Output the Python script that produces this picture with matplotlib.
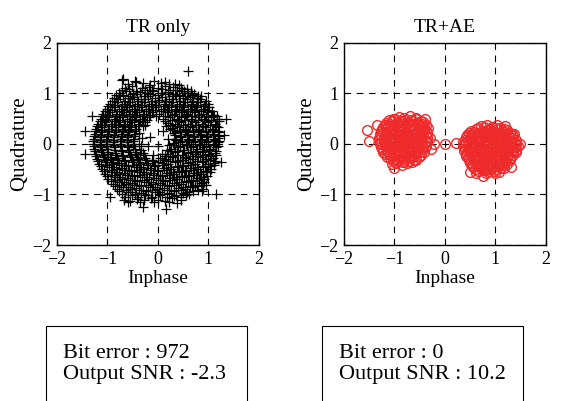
import matplotlib.pyplot as plt
from matplotlib.patches import Rectangle
import numpy as np

plt.rcParams['font.family'] = ['Liberation Serif', 'DejaVu Serif']

# received symbols, TR only
tr_only = np.array([
    (-0.72, 1.26), (-0.44, 1.22), (-0.08, 1.24), (0.05, 1.2), (0.22, 1.18), (0.41, 1.16),
    (-0.66, 1.1), (-0.52, 1.14), (-0.31, 1.1), (-0.18, 1.13), (0.0, 1.1), (0.13, 1.15), (0.3, 1.12), (0.46, 1.1), (0.58, 1.08),
    (-0.78, 1.0), (-0.63, 1.04), (-0.49, 0.99), (-0.36, 1.03), (-0.22, 1.0), (-0.09, 1.05), (0.06, 1.0), (0.19, 1.03),
    (0.33, 0.99), (0.47, 1.04), (0.6, 1.0), (0.72, 0.98),
    (-0.88, 0.9), (-0.75, 0.94), (-0.6, 0.91), (-0.47, 0.93), (-0.33, 0.89), (-0.2, 0.94), (-0.05, 0.9), (0.08, 0.93),
    (0.22, 0.89), (0.35, 0.94), (0.5, 0.9), (0.63, 0.93), (0.77, 0.9), (0.86, 0.95),
    (-0.95, 0.8), (-0.82, 0.84), (-0.68, 0.8), (-0.55, 0.83), (-0.41, 0.79), (-0.28, 0.84), (-0.14, 0.8), (0.0, 0.83),
    (0.14, 0.79), (0.27, 0.84), (0.41, 0.8), (0.54, 0.83), (0.68, 0.79), (0.8, 0.84), (0.93, 0.8),
    (-1.0, 0.7), (-0.88, 0.74), (-0.74, 0.7), (-0.61, 0.73), (-0.47, 0.69), (-0.33, 0.74), (-0.2, 0.7), (-0.06, 0.73),
    (0.09, 0.69), (0.22, 0.74), (0.36, 0.7), (0.5, 0.73), (0.63, 0.69), (0.76, 0.74), (0.9, 0.7), (1.02, 0.73),
    (-1.08, 0.6), (-0.95, 0.64), (-0.82, 0.6), (-0.68, 0.63), (-0.55, 0.59), (-0.41, 0.64), (-0.27, 0.6), (-0.12, 0.63),
    (0.03, 0.59), (0.17, 0.64), (0.31, 0.6), (0.45, 0.63), (0.58, 0.59), (0.72, 0.64), (0.86, 0.6), (0.99, 0.63), (1.1, 0.58),
    (-1.12, 0.5), (-0.99, 0.54), (-0.85, 0.5), (-0.72, 0.53), (-0.58, 0.49), (-0.45, 0.54), (-0.32, 0.5), (-0.18, 0.53),
    (-0.04, 0.55), (0.1, 0.5), (0.24, 0.54), (0.38, 0.49), (0.52, 0.53), (0.65, 0.5), (0.79, 0.54), (0.92, 0.5),
    (1.05, 0.53), (1.16, 0.49),
    (-1.18, 0.4), (-1.05, 0.44), (-0.92, 0.4), (-0.78, 0.43), (-0.65, 0.39), (-0.51, 0.44), (-0.38, 0.4), (-0.26, 0.44),
    (0.2, 0.42), (0.33, 0.39), (0.46, 0.44), (0.6, 0.4), (0.73, 0.43), (0.87, 0.39), (1.0, 0.44), (1.12, 0.4), (1.2, 0.45),
    (-1.22, 0.3), (-1.1, 0.34), (-0.97, 0.3), (-0.83, 0.33), (-0.7, 0.29), (-0.56, 0.34), (-0.43, 0.3),
    (0.28, 0.31), (0.41, 0.34), (0.54, 0.29), (0.67, 0.33), (0.8, 0.3), (0.94, 0.34), (1.07, 0.3), (1.18, 0.33),
    (-1.25, 0.2), (-1.12, 0.24), (-0.99, 0.2), (-0.86, 0.23), (-0.72, 0.19), (-0.59, 0.24), (-0.46, 0.2),
    (0.31, 0.21), (0.44, 0.24), (0.57, 0.19), (0.7, 0.23), (0.83, 0.2), (0.96, 0.24), (1.09, 0.2), (1.2, 0.23),
    (-1.27, 0.1), (-1.14, 0.14), (-1.01, 0.1), (-0.88, 0.13), (-0.74, 0.09), (-0.61, 0.14), (-0.47, 0.1), (-0.15, 0.14),
    (0.33, 0.1), (0.46, 0.14), (0.59, 0.09), (0.72, 0.13), (0.85, 0.1), (0.98, 0.14), (1.1, 0.1), (1.19, 0.12),
    (-1.28, 0.0), (-1.15, 0.04), (-1.02, 0.0), (-0.89, 0.03), (-0.75, -0.01), (-0.62, 0.04), (-0.48, 0.0), (0.0, -0.04),
    (0.3, 0.01), (0.43, 0.04), (0.56, -0.01), (0.69, 0.03), (0.82, 0.0), (0.95, 0.04), (1.08, 0.0), (1.18, 0.03),
    (-1.26, -0.1), (-1.13, -0.06), (-1.0, -0.1), (-0.87, -0.07), (-0.73, -0.11), (-0.6, -0.06), (-0.46, -0.1), (-0.34, -0.05),
    (0.26, -0.09), (0.39, -0.06), (0.52, -0.11), (0.65, -0.07), (0.78, -0.1), (0.91, -0.06), (1.04, -0.1), (1.14, -0.07),
    (-1.24, -0.2), (-1.11, -0.16), (-0.98, -0.2), (-0.85, -0.17), (-0.71, -0.21), (-0.58, -0.16), (-0.44, -0.2), (-0.3, -0.17),
    (0.2, -0.19), (0.34, -0.16), (0.47, -0.21), (0.6, -0.17), (0.74, -0.2), (0.87, -0.16), (1.0, -0.2), (1.12, -0.17),
    (-1.2, -0.3), (-1.07, -0.26), (-0.94, -0.3), (-0.81, -0.27), (-0.67, -0.31), (-0.54, -0.26), (-0.4, -0.3), (-0.26, -0.27),
    (-0.12, -0.31), (0.04, -0.27), (0.16, -0.3), (0.3, -0.26), (0.43, -0.31), (0.56, -0.27), (0.7, -0.3), (0.83, -0.26),
    (0.96, -0.3), (1.08, -0.27),
    (-1.16, -0.4), (-1.03, -0.36), (-0.9, -0.4), (-0.77, -0.37), (-0.63, -0.41), (-0.5, -0.36), (-0.36, -0.4), (-0.22, -0.37),
    (-0.08, -0.41), (0.07, -0.37), (0.2, -0.4), (0.34, -0.36), (0.47, -0.41), (0.6, -0.37), (0.74, -0.4), (0.87, -0.36),
    (1.0, -0.4), (1.11, -0.37),
    (-1.1, -0.5), (-0.97, -0.46), (-0.84, -0.5), (-0.71, -0.47), (-0.57, -0.51), (-0.44, -0.46), (-0.3, -0.5), (-0.16, -0.47),
    (-0.02, -0.51), (0.12, -0.47), (0.26, -0.5), (0.39, -0.46), (0.53, -0.51), (0.66, -0.47), (0.8, -0.5), (0.93, -0.46),
    (1.05, -0.5),
    (-1.04, -0.6), (-0.91, -0.56), (-0.78, -0.6), (-0.65, -0.57), (-0.51, -0.61), (-0.38, -0.56), (-0.24, -0.6), (-0.1, -0.57),
    (0.04, -0.61), (0.18, -0.57), (0.32, -0.6), (0.45, -0.56), (0.59, -0.61), (0.72, -0.57), (0.86, -0.6), (0.98, -0.56),
    (-0.98, -0.7), (-0.85, -0.66), (-0.72, -0.7), (-0.59, -0.67), (-0.45, -0.71), (-0.32, -0.66), (-0.18, -0.7), (-0.04, -0.67),
    (0.1, -0.71), (0.24, -0.67), (0.38, -0.7), (0.51, -0.66), (0.65, -0.71), (0.78, -0.67), (0.92, -0.7),
    (-0.9, -0.8), (-0.77, -0.76), (-0.64, -0.8), (-0.51, -0.77), (-0.37, -0.81), (-0.24, -0.76), (-0.1, -0.8), (0.04, -0.77),
    (0.18, -0.81), (0.32, -0.77), (0.46, -0.8), (0.59, -0.76), (0.73, -0.81), (0.85, -0.77), (0.95, -0.82),
    (-0.82, -0.9), (-0.69, -0.86), (-0.56, -0.9), (-0.43, -0.87), (-0.29, -0.91), (-0.16, -0.86), (-0.02, -0.9), (0.12, -0.87),
    (0.26, -0.91), (0.4, -0.87), (0.54, -0.9), (0.67, -0.86), (0.8, -0.91), (0.88, -0.93),
    (-0.72, -1.0), (-0.59, -0.96), (-0.46, -1.0), (-0.33, -0.97), (-0.19, -1.01), (-0.06, -0.96), (0.08, -1.0), (0.22, -0.97),
    (0.36, -1.01), (0.5, -0.97), (0.62, -1.0),
    (-0.68, -1.1), (-0.55, -1.12), (-0.42, -1.08), (-0.28, -1.11), (-0.14, -1.06), (0.0, -1.1), (0.14, -1.12), (0.28, -1.07),
    (0.45, -1.1),
    (0.6, 1.45), (-1.45, 0.25), (-1.45, -0.2), (1.15, -1.0), (1.35, 0.5), (1.3, 0.18), (-0.3, -1.25), (0.15, -1.28),
    (-0.95, -1.05), (1.25, -0.35), (-1.3, 0.55), (0.9, -0.9), (-0.45, 1.25), (-0.7, 1.28),
    (0.1, 0.25), (-0.2, -0.05),
    # second pass, between the rows above
    (-0.6, 1.18), (-0.3, 1.2), (-0.15, 1.16), (0.14, 1.22), (0.33, 1.19),
    (-0.72, 1.06), (-0.58, 1.08), (-0.44, 1.05), (-0.25, 1.07), (-0.12, 1.06), (0.07, 1.08), (0.23, 1.06), (0.38, 1.07),
    (0.52, 1.05), (0.65, 1.04),
    (-0.83, 0.96), (-0.69, 0.97), (-0.55, 0.95), (-0.42, 0.98), (-0.28, 0.95), (-0.15, 0.98), (0.0, 0.96), (0.13, 0.98),
    (0.27, 0.95), (0.41, 0.97), (0.54, 0.95), (0.67, 0.97), (0.8, 0.95),
    (-0.92, 0.86), (-0.8, 0.88), (-0.66, 0.85), (-0.52, 0.88), (-0.39, 0.86), (-0.25, 0.88), (-0.12, 0.85), (0.03, 0.87),
    (0.16, 0.86), (0.3, 0.88), (0.44, 0.85), (0.57, 0.88), (0.7, 0.86), (0.83, 0.88), (0.95, 0.86),
    (-0.98, 0.76), (-0.85, 0.78), (-0.72, 0.75), (-0.58, 0.78), (-0.45, 0.76), (-0.31, 0.78), (-0.18, 0.75), (-0.03, 0.77),
    (0.11, 0.76), (0.25, 0.78), (0.38, 0.75), (0.52, 0.77), (0.65, 0.76), (0.78, 0.78), (0.91, 0.75), (1.0, 0.79),
    (-1.04, 0.66), (-0.92, 0.68), (-0.78, 0.65), (-0.64, 0.68), (-0.51, 0.66), (-0.37, 0.68), (-0.24, 0.65), (-0.09, 0.67),
    (0.05, 0.66), (0.19, 0.68), (0.33, 0.65), (0.47, 0.67), (0.6, 0.66), (0.73, 0.68), (0.86, 0.65), (0.97, 0.67), (1.07, 0.65),
    (-1.1, 0.56), (-0.97, 0.58), (-0.84, 0.55), (-0.7, 0.58), (-0.57, 0.56), (-0.43, 0.58), (-0.3, 0.55), (-0.15, 0.57),
    (0.13, 0.56), (0.27, 0.58), (0.41, 0.55), (0.55, 0.57), (0.68, 0.56), (0.82, 0.58), (0.95, 0.55), (1.08, 0.57), (1.17, 0.55),
    (-1.15, 0.46), (-1.02, 0.48), (-0.88, 0.45), (-0.75, 0.48), (-0.62, 0.46), (-0.48, 0.48), (-0.35, 0.45), (-0.21, 0.47),
    (0.14, 0.46), (0.27, 0.48), (0.4, 0.45), (0.54, 0.47), (0.67, 0.46), (0.8, 0.48), (0.94, 0.45), (1.06, 0.47), (1.17, 0.46),
    (-1.2, 0.36), (-1.07, 0.38), (-0.94, 0.35), (-0.8, 0.38), (-0.67, 0.36), (-0.53, 0.38), (-0.4, 0.35),
    (0.24, 0.37), (0.37, 0.36), (0.5, 0.38), (0.63, 0.35), (0.76, 0.37), (0.9, 0.36), (1.03, 0.38), (1.15, 0.35),
    (-1.24, 0.26), (-1.11, 0.28), (-0.98, 0.25), (-0.84, 0.28), (-0.71, 0.26), (-0.57, 0.28), (-0.45, 0.25),
    (0.3, 0.27), (0.43, 0.26), (0.56, 0.28), (0.69, 0.25), (0.82, 0.27), (0.95, 0.26), (1.08, 0.28), (1.19, 0.26),
    (-1.26, 0.16), (-1.13, 0.18), (-1.0, 0.15), (-0.87, 0.18), (-0.73, 0.16), (-0.6, 0.18), (-0.48, 0.15),
    (0.33, 0.17), (0.46, 0.16), (0.59, 0.18), (0.72, 0.15), (0.85, 0.17), (0.98, 0.16), (1.1, 0.18), (1.2, 0.16),
    (-1.28, 0.06), (-1.15, 0.08), (-1.02, 0.05), (-0.89, 0.08), (-0.75, 0.06), (-0.62, 0.08), (-0.5, 0.05),
    (0.35, 0.07), (0.48, 0.06), (0.61, 0.08), (0.74, 0.05), (0.87, 0.07), (1.0, 0.06), (1.12, 0.08), (1.21, 0.06),
    (-1.27, -0.04), (-1.14, -0.02), (-1.01, -0.05), (-0.88, -0.02), (-0.74, -0.04), (-0.61, -0.02), (-0.49, -0.05), (-0.38, 0.0),
    (0.31, -0.03), (0.44, -0.04), (0.57, -0.02), (0.7, -0.05), (0.83, -0.03), (0.96, -0.04), (1.09, -0.02), (1.19, -0.04),
    (-1.25, -0.14), (-1.12, -0.12), (-0.99, -0.15), (-0.86, -0.12), (-0.72, -0.14), (-0.59, -0.12), (-0.46, -0.15), (-0.33, -0.12),
    (0.24, -0.13), (0.37, -0.14), (0.5, -0.12), (0.63, -0.15), (0.76, -0.13), (0.89, -0.14), (1.02, -0.12), (1.14, -0.14),
    (-1.22, -0.24), (-1.09, -0.22), (-0.96, -0.25), (-0.83, -0.22), (-0.69, -0.24), (-0.56, -0.22), (-0.42, -0.25), (-0.28, -0.22),
    (0.13, -0.23), (0.27, -0.24), (0.4, -0.22), (0.54, -0.25), (0.67, -0.23), (0.8, -0.24), (0.93, -0.22), (1.06, -0.24),
    (1.15, -0.22),
    (-1.18, -0.34), (-1.05, -0.32), (-0.92, -0.35), (-0.79, -0.32), (-0.65, -0.34), (-0.52, -0.32), (-0.38, -0.35), (-0.24, -0.32),
    (-0.1, -0.34), (0.0, -0.35), (0.11, -0.32), (0.24, -0.33), (0.37, -0.34), (0.5, -0.32), (0.63, -0.35), (0.77, -0.33),
    (0.9, -0.34), (1.03, -0.32), (1.13, -0.34),
    (-1.13, -0.44), (-1.0, -0.42), (-0.87, -0.45), (-0.74, -0.42), (-0.6, -0.44), (-0.47, -0.42), (-0.33, -0.45), (-0.19, -0.42),
    (-0.05, -0.44), (0.1, -0.42), (0.23, -0.45), (0.37, -0.43), (0.5, -0.44), (0.63, -0.42), (0.77, -0.45), (0.9, -0.43),
    (1.03, -0.44), (1.1, -0.42),
    (-1.07, -0.54), (-0.94, -0.52), (-0.81, -0.55), (-0.68, -0.52), (-0.54, -0.54), (-0.41, -0.52), (-0.27, -0.55), (-0.13, -0.52),
    (0.01, -0.54), (0.15, -0.52), (0.29, -0.55), (0.42, -0.53), (0.56, -0.54), (0.69, -0.52), (0.83, -0.55), (0.96, -0.53),
    (1.04, -0.55),
    (-1.01, -0.64), (-0.88, -0.62), (-0.75, -0.65), (-0.62, -0.62), (-0.48, -0.64), (-0.35, -0.62), (-0.21, -0.65), (-0.07, -0.62),
    (0.07, -0.64), (0.21, -0.62), (0.35, -0.65), (0.48, -0.63), (0.62, -0.64), (0.75, -0.62), (0.89, -0.65), (0.97, -0.63),
    (-0.94, -0.74), (-0.81, -0.72), (-0.68, -0.75), (-0.55, -0.72), (-0.41, -0.74), (-0.28, -0.72), (-0.14, -0.75), (0.0, -0.72),
    (0.14, -0.74), (0.28, -0.72), (0.42, -0.75), (0.55, -0.73), (0.69, -0.74), (0.82, -0.72), (0.92, -0.75),
    (-0.86, -0.84), (-0.73, -0.82), (-0.6, -0.85), (-0.47, -0.82), (-0.33, -0.84), (-0.2, -0.82), (-0.06, -0.85), (0.08, -0.82),
    (0.22, -0.84), (0.36, -0.82), (0.5, -0.85), (0.63, -0.83), (0.77, -0.84), (0.87, -0.82),
    (-0.77, -0.94), (-0.64, -0.92), (-0.51, -0.95), (-0.38, -0.92), (-0.24, -0.94), (-0.11, -0.92), (0.03, -0.95), (0.17, -0.92),
    (0.31, -0.94), (0.45, -0.92), (0.58, -0.95), (0.7, -0.93),
    (-0.65, -1.04), (-0.52, -1.02), (-0.39, -1.05), (-0.25, -1.02), (-0.11, -1.04), (0.04, -1.02), (0.18, -1.05), (0.32, -1.03),
    (0.46, -1.04), (0.56, -1.02),
    (-0.6, -1.15), (-0.35, -1.14), (-0.07, -1.15), (0.22, -1.14), (0.38, -1.16),
    # stragglers around the hole in the middle
    (0.2, 0.1), (0.18, -0.12), (-0.32, 0.12), (-0.3, 0.35), (0.15, 0.35), (-0.1, -0.22), (0.08, -0.2),
    (-0.25, 0.38), (-0.38, 0.22), (0.23, 0.3), (-0.36, -0.18), (0.22, -0.02),
])

# received symbols, TR+AE: cluster around -1
ae_left = np.array([
    (-1.02, 0.5), (-0.91, 0.54), (-0.8, 0.51), (-0.69, 0.55), (-0.58, 0.52),
    (-1.16, 0.42), (-1.05, 0.45), (-0.95, 0.41), (-0.84, 0.44), (-0.74, 0.42), (-0.63, 0.46), (-0.53, 0.42), (-0.43, 0.44),
    (-1.22, 0.33), (-1.12, 0.36), (-1.01, 0.32), (-0.91, 0.35), (-0.81, 0.33), (-0.71, 0.36), (-0.6, 0.32), (-0.5, 0.35),
    (-0.41, 0.33),
    (-1.27, 0.26), (-1.17, 0.23), (-1.06, 0.27), (-0.96, 0.24), (-0.86, 0.26), (-0.75, 0.23), (-0.65, 0.27), (-0.55, 0.24),
    (-0.45, 0.26), (-0.36, 0.23),
    (-1.29, 0.15), (-1.19, 0.18), (-1.08, 0.14), (-0.98, 0.17), (-0.88, 0.15), (-0.77, 0.18), (-0.67, 0.14), (-0.57, 0.17),
    (-0.47, 0.15), (-0.37, 0.18),
    (-1.3, 0.08), (-1.2, 0.05), (-1.09, 0.09), (-0.99, 0.06), (-0.89, 0.08), (-0.78, 0.05), (-0.68, 0.09), (-0.58, 0.06),
    (-0.48, 0.08), (-0.37, 0.05),
    (-1.28, -0.01), (-1.18, -0.04), (-1.07, 0.0), (-0.97, -0.03), (-0.87, -0.01), (-0.76, -0.04), (-0.66, 0.0), (-0.56, -0.03),
    (-0.46, -0.01), (-0.38, -0.04),
    (-1.25, -0.1), (-1.15, -0.13), (-1.04, -0.09), (-0.94, -0.12), (-0.84, -0.1), (-0.73, -0.13), (-0.63, -0.09), (-0.53, -0.12),
    (-0.43, -0.1),
    (-1.19, -0.19), (-1.09, -0.22), (-0.98, -0.18), (-0.88, -0.21), (-0.78, -0.19), (-0.67, -0.22), (-0.57, -0.18), (-0.47, -0.21),
    (-1.09, -0.28), (-0.99, -0.31), (-0.88, -0.27), (-0.78, -0.3), (-0.68, -0.28), (-0.57, -0.31),
    (-0.96, -0.37), (-0.85, -0.35), (-0.75, -0.38), (-0.65, -0.36),
    (-1.55, 0.27), (-1.5, 0.05), (-0.22, 0.0), (-1.0, -0.47), (-0.4, 0.5), (-0.3, 0.12), (-0.27, -0.1), (-1.35, 0.38),
    (-1.1, 0.47), (-0.99, 0.49), (-0.89, 0.46), (-0.79, 0.48), (-0.68, 0.47), (-0.58, 0.49), (-0.48, 0.46),
    (-1.19, 0.38), (-1.08, 0.4), (-0.98, 0.37), (-0.87, 0.39), (-0.77, 0.38), (-0.66, 0.4), (-0.56, 0.37), (-0.46, 0.39),
    (-0.38, 0.38),
    (-1.24, 0.29), (-1.14, 0.31), (-1.03, 0.28), (-0.93, 0.3), (-0.82, 0.29), (-0.72, 0.31), (-0.61, 0.28), (-0.51, 0.3),
    (-0.41, 0.29), (-0.34, 0.31),
    (-1.28, 0.2), (-1.17, 0.22), (-1.07, 0.19), (-0.96, 0.21), (-0.86, 0.2), (-0.75, 0.22), (-0.65, 0.19), (-0.55, 0.21),
    (-0.44, 0.2), (-0.35, 0.22),
    (-1.31, 0.11), (-1.2, 0.13), (-1.1, 0.1), (-0.99, 0.12), (-0.89, 0.11), (-0.78, 0.13), (-0.68, 0.1), (-0.58, 0.12),
    (-0.47, 0.11), (-0.36, 0.13),
    (-1.29, 0.02), (-1.19, 0.04), (-1.08, 0.01), (-0.98, 0.03), (-0.87, 0.02), (-0.77, 0.04), (-0.66, 0.01), (-0.56, 0.03),
    (-0.46, 0.02), (-0.36, 0.04),
    (-1.27, -0.07), (-1.16, -0.05), (-1.06, -0.08), (-0.95, -0.06), (-0.85, -0.07), (-0.74, -0.05), (-0.64, -0.08), (-0.54, -0.06),
    (-0.44, -0.07), (-0.37, -0.05),
    (-1.22, -0.16), (-1.12, -0.14), (-1.01, -0.17), (-0.91, -0.15), (-0.8, -0.16), (-0.7, -0.14), (-0.59, -0.17), (-0.49, -0.15),
    (-0.41, -0.16),
    (-1.14, -0.25), (-1.04, -0.23), (-0.93, -0.26), (-0.83, -0.24), (-0.72, -0.25), (-0.62, -0.23), (-0.52, -0.26),
    (-1.03, -0.33), (-0.92, -0.32), (-0.81, -0.34), (-0.71, -0.33), (-0.61, -0.32),
    (-0.85, -0.41), (-1.05, -0.4),
])

# received symbols, TR+AE: cluster around +1 (and the stray one at the origin)
ae_right = np.array([
    (0.72, 0.35), (0.83, 0.38), (0.94, 0.34), (1.04, 0.37),
    (0.52, 0.26), (0.62, 0.29), (0.73, 0.25), (0.83, 0.28), (0.93, 0.26), (1.03, 0.29), (1.14, 0.25), (1.24, 0.28),
    (0.43, 0.17), (0.53, 0.2), (0.64, 0.16), (0.74, 0.19), (0.84, 0.17), (0.94, 0.2), (1.05, 0.16), (1.15, 0.19),
    (1.25, 0.17), (1.33, 0.2),
    (0.4, 0.08), (0.5, 0.11), (0.61, 0.07), (0.71, 0.1), (0.81, 0.08), (0.92, 0.11), (1.02, 0.07), (1.12, 0.1),
    (1.23, 0.08), (1.33, 0.11), (1.41, 0.08),
    (0.38, -0.01), (0.48, 0.02), (0.59, -0.02), (0.69, 0.01), (0.79, -0.01), (0.9, 0.02), (1.0, -0.02), (1.1, 0.01),
    (1.21, -0.01), (1.31, 0.02), (1.4, -0.02),
    (0.39, -0.1), (0.49, -0.07), (0.6, -0.11), (0.7, -0.08), (0.8, -0.1), (0.91, -0.07), (1.01, -0.11), (1.11, -0.08),
    (1.22, -0.1), (1.32, -0.07), (1.41, -0.11),
    (0.42, -0.19), (0.52, -0.16), (0.63, -0.2), (0.73, -0.17), (0.83, -0.19), (0.94, -0.16), (1.04, -0.2), (1.14, -0.17),
    (1.25, -0.19), (1.35, -0.16),
    (0.45, -0.28), (0.55, -0.25), (0.66, -0.29), (0.76, -0.26), (0.86, -0.28), (0.97, -0.25), (1.07, -0.29), (1.17, -0.26),
    (1.28, -0.28),
    (0.5, -0.37), (0.6, -0.34), (0.71, -0.38), (0.81, -0.35), (0.91, -0.37), (1.02, -0.34), (1.12, -0.38), (1.22, -0.35),
    (0.56, -0.46), (0.66, -0.43), (0.77, -0.47), (0.87, -0.44), (0.97, -0.46), (1.08, -0.43), (1.17, -0.47),
    (0.65, -0.54), (0.76, -0.52), (0.86, -0.55), (0.97, -0.53), (1.07, -0.55),
    (0.0, 0.0), (0.22, 0.02), (1.48, 0.0), (1.2, 0.36), (0.75, -0.63), (0.5, -0.56), (1.36, 0.2), (1.3, -0.45),
    (0.66, 0.31), (0.77, 0.33), (0.88, 0.3), (0.99, 0.32), (1.09, 0.31), (1.18, 0.3),
    (0.47, 0.22), (0.57, 0.24), (0.68, 0.21), (0.78, 0.23), (0.89, 0.22), (0.99, 0.24), (1.1, 0.21), (1.2, 0.23), (1.29, 0.22),
    (0.41, 0.13), (0.51, 0.15), (0.62, 0.12), (0.72, 0.14), (0.83, 0.13), (0.93, 0.15), (1.04, 0.12), (1.14, 0.14),
    (1.24, 0.13), (1.35, 0.15),
    (0.36, 0.04), (0.46, 0.06), (0.57, 0.03), (0.67, 0.05), (0.78, 0.04), (0.88, 0.06), (0.99, 0.03), (1.09, 0.05),
    (1.19, 0.04), (1.3, 0.06), (1.39, 0.04),
    (0.35, -0.05), (0.45, -0.03), (0.56, -0.06), (0.66, -0.04), (0.77, -0.05), (0.87, -0.03), (0.98, -0.06), (1.08, -0.04),
    (1.18, -0.05), (1.29, -0.03), (1.38, -0.06), (1.44, -0.04),
    (0.38, -0.14), (0.48, -0.12), (0.59, -0.15), (0.69, -0.13), (0.8, -0.14), (0.9, -0.12), (1.01, -0.15), (1.11, -0.13),
    (1.21, -0.14), (1.32, -0.12), (1.4, -0.15),
    (0.42, -0.23), (0.52, -0.21), (0.63, -0.24), (0.73, -0.22), (0.84, -0.23), (0.94, -0.21), (1.05, -0.24), (1.15, -0.22),
    (1.25, -0.23), (1.34, -0.21),
    (0.47, -0.32), (0.57, -0.3), (0.68, -0.33), (0.78, -0.31), (0.89, -0.32), (0.99, -0.3), (1.1, -0.33), (1.2, -0.31),
    (1.29, -0.32),
    (0.53, -0.41), (0.63, -0.39), (0.74, -0.42), (0.84, -0.4), (0.95, -0.41), (1.05, -0.39), (1.16, -0.42), (1.24, -0.4),
    (0.6, -0.5), (0.71, -0.48), (0.81, -0.51), (0.92, -0.49), (1.02, -0.5), (1.12, -0.48),
    (0.82, -0.58), (1.0, -0.58), (0.62, -0.57),
])

titles = ['TR only', 'TR+AE']
bit_errors = [972, 0]
output_snr = [-2.3, 10.2]
ticks = [-2, -1, 0, 1, 2]

fig = plt.figure(figsize=(5.61, 4.01), dpi=100)
ax1 = fig.add_axes([0.1016, 0.389, 0.360, 0.504])
ax2 = fig.add_axes([0.613, 0.389, 0.360, 0.504])

ax1.plot(tr_only[:, 0], tr_only[:, 1], '+', color='black', ms=7, mew=0.9)
red = '#ee2a2a'
ax2.plot(ae_left[:, 0], ae_left[:, 1], 'o', mfc='none', mec=red, ms=7, mew=1.0)
ax2.plot(ae_right[:, 0], ae_right[:, 1], 'o', mfc='none', mec=red, ms=7, mew=1.0)

for ax, title in zip([ax1, ax2], titles):
    ax.set_xlim(-2, 2)
    ax.set_ylim(-2, 2)
    ax.set_xticks(ticks)
    ax.set_yticks(ticks)
    ax.tick_params(direction='in', length=3, labelsize=13, pad=4)
    ax.grid(True, color='black', linestyle=(0, (6, 5)), linewidth=0.8)
    ax.set_axisbelow(True)
    ax.set_title(title, fontsize=14, pad=8)
    ax.set_xlabel('Inphase', fontsize=14, labelpad=2)
    ax.set_ylabel('Quadrature', fontsize=15, labelpad=2)
    for s in ax.spines.values():
        s.set_linewidth(1.0)

# result boxes below the plots
box_x = [46 / 561, 322 / 561]
for bx, be, snr in zip(box_x, bit_errors, output_snr):
    fig.patches.append(Rectangle((bx, -0.1), 0.358, 0.287, transform=fig.transFigure,
                                 fill=False, edgecolor='black', linewidth=0.8))
    fig.text(bx + 17 / 561, 47 / 401, f'Bit error : {be}', fontsize=16, va='center')
    fig.text(bx + 17 / 561, 26 / 401, f'Output SNR : {snr}', fontsize=16, va='center')

plt.savefig('out.png', dpi=100)
